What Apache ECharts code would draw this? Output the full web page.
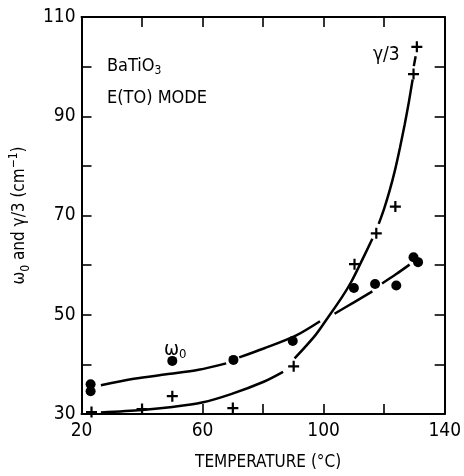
<!DOCTYPE html>
<html>
<head>
<meta charset="utf-8">
<script src="https://cdn.jsdelivr.net/npm/echarts@6/dist/echarts.min.js"></script>
<style>
	html, body { margin: 0; padding: 0; background: #fff; }
	#main { width: 464px; height: 476px; }
</style>
</head>
<body>
<div id="main"></div>
<script>
	// omega0 measured points (temperature, cm-1)
	var omegaPts = [
		[23, 36.0], [23, 34.6], [50, 40.7], [70.2, 40.9], [89.8, 44.7],
		[110, 55.4], [117, 56.2], [124, 55.9], [129.7, 61.6], [131.2, 60.6]
	];
	// gamma/3 measured points
	var gammaPts = [
		[23.3, 30.4], [40, 31.0], [50, 33.6], [70, 31.2], [90.1, 39.6],
		[110.2, 60.2], [117.4, 66.4], [123.7, 71.8], [129.7, 98.5], [130.8, 104]
	];
	// fitted curves, null = break in the drawn line
	var omegaCurve = [
		[26.4, 35.8], [37.3, 37.1], [48, 38.0], [58.7, 38.9], [67.8, 40.2], null,
		[72.1, 41.4], [80.2, 43.2], [90.8, 45.8], [98.8, 48.7], null,
		[103.6, 50.2], [110, 52.5], [116.1, 54.7], null,
		[119.3, 56.3], [124, 58.2], [128.4, 60.1]
	];
	var gammaCurve = [
		[26.4, 30.3], [40, 30.8], [50, 31.4], [59.8, 32.3], [69.4, 34.0], [80.2, 36.5], [86.6, 38.5], null,
		[90.4, 41.2], [97.3, 45.9], [101.6, 49.6], [105.9, 53.4], [109.1, 56.6], [112.3, 60.5], [116.1, 65.3], null,
		[118.2, 68.3], [120, 71.4], [121.8, 75.0], [123.6, 79.2], [125.2, 83.6], [126.8, 88.4],
		[128.2, 93.0], [129.4, 97.4], null,
		[129.8, 100.1], [130.4, 102.1]
	];
	var xLabels = [20, 60, 100, 140];
	var yLabels = [30, 50, 70, 90, 110];

	var font = '"DejaVu Sans Condensed", "DejaVu Sans", sans-serif';
	var plus = 'path://M4,0H6V10H4ZM0,4H10V6H0Z';

	var myChart = echarts.init(document.getElementById('main'));

	var tickIn = { show: true, inside: true, length: 10, lineStyle: { color: '#000', width: 1.6 } };
	var lineK = { show: true, onZero: false, lineStyle: { color: '#000', width: 2 } };

	var option = {
		backgroundColor: '#fff',
		animation: false,
		grid: { left: 74, right: 18, top: 17, bottom: 56 },
		xAxis: [{
			type: 'value', min: 20, max: 140, interval: 20,
			axisLine: lineK, axisTick: tickIn, splitLine: { show: false },
			axisLabel: {
				color: '#000', fontSize: 19, fontFamily: font, margin: 8,
				formatter: function(v) { return xLabels.indexOf(v) > -1 ? v + '' : ''; }
			},
			name: 'TEMPERATURE (°C)', nameLocation: 'middle', nameGap: 40,
			nameTextStyle: { color: '#000', fontSize: 17, fontFamily: font, padding: [0, 0, 0, 10] }
		}, {
			type: 'value', min: 20, max: 140, interval: 20, position: 'top',
			axisLine: lineK, axisTick: tickIn, axisLabel: { show: false }, splitLine: { show: false }
		}],
		yAxis: [{
			type: 'value', min: 30, max: 110, interval: 10,
			axisLine: lineK, axisTick: tickIn, splitLine: { show: false },
			axisLabel: {
				color: '#000', fontSize: 19, fontFamily: font, margin: 6,
				formatter: function(v) { return yLabels.indexOf(v) > -1 ? v + '' : ''; }
			},
			name: '{a|ω}{s|0}{a| and γ/3 (cm}{p|−1}{a|)}',
			nameLocation: 'middle', nameRotate: 90, nameGap: 44,
			nameTextStyle: {
				color: '#000', fontFamily: font,
				rich: {
					a: { fontSize: 17, lineHeight: 24, fontFamily: font, color: '#000' },
					s: { fontSize: 12, lineHeight: 12, verticalAlign: 'bottom', fontFamily: font, color: '#000' },
					p: { fontSize: 12, lineHeight: 12, verticalAlign: 'top', fontFamily: font, color: '#000' }
				}
			}
		}, {
			type: 'value', min: 30, max: 110, interval: 10, position: 'right',
			axisLine: lineK, axisTick: tickIn, axisLabel: { show: false }, splitLine: { show: false }
		}],
		graphic: [{
			type: 'text', left: 107, top: 57,
			style: {
				text: '{a|BaTiO}{s|3}', fill: '#000',
				rich: {
					a: { fontSize: 18, lineHeight: 22, fontFamily: font, fill: '#000' },
					s: { fontSize: 12, lineHeight: 12, verticalAlign: 'bottom', fontFamily: font, fill: '#000' }
				}
			}
		}, {
			type: 'text', left: 107, top: 89,
			style: { text: 'E(TO) MODE', fontSize: 18, fontFamily: font, fill: '#000' }
		}, {
			type: 'text', left: 373, top: 46,
			style: { text: 'γ/3', fontSize: 19, fontFamily: font, fill: '#000' }
		}, {
			type: 'text', left: 164, top: 340,
			style: {
				text: '{a|ω}{s|0}', fill: '#000',
				rich: {
					a: { fontSize: 20, lineHeight: 22, fontFamily: font, fill: '#000' },
					s: { fontSize: 13, lineHeight: 13, verticalAlign: 'bottom', fontFamily: font, fill: '#000' }
				}
			}
		}],
		series: [{
			name: 'omega curve', type: 'line', data: omegaCurve, smooth: 0.3,
			showSymbol: false, connectNulls: false,
			lineStyle: { color: '#000', width: 2.5 }
		}, {
			name: 'gamma curve', type: 'line', data: gammaCurve, smooth: 0.3,
			showSymbol: false, connectNulls: false,
			lineStyle: { color: '#000', width: 2.5 }
		}, {
			name: 'omega0', type: 'scatter', data: omegaPts,
			symbol: 'circle', symbolSize: 10, itemStyle: { color: '#000', opacity: 1 }
		}, {
			name: 'gamma/3', type: 'scatter', data: gammaPts,
			symbol: plus, symbolSize: 11, itemStyle: { color: '#000', opacity: 1 }
		}]
	};
	myChart.setOption(option);
</script>
</body>
</html>
